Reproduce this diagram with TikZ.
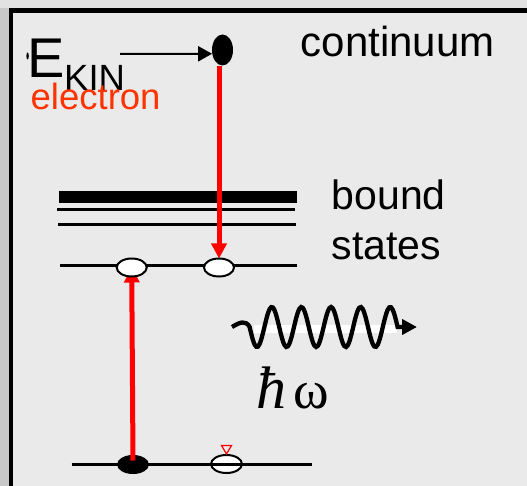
\documentclass[tikz,border=0pt]{standalone}
\usepackage{fontspec}
\setmainfont{Liberation Sans}
\newfontfamily\symserif{Liberation Serif}
\usepackage{xcolor}
\usetikzlibrary{arrows.meta,shapes.geometric,calc}
\definecolor{panel}{HTML}{EAEAEA}
\definecolor{outer}{HTML}{E2E2E2}
\definecolor{strip}{HTML}{C8C8C8}
\definecolor{elred}{HTML}{FF3300}
\tikzstyle{level}=[line width=3.3pt]
\tikzstyle{state}=[ellipse, draw=black, line width=2pt, fill=white,
  minimum width=30pt, minimum height=18pt, inner sep=0pt]
\tikzstyle{occ}=[ellipse, fill=black, minimum width=32pt, minimum height=19pt, inner sep=0pt]
\tikzstyle{lbl}=[anchor=base west, inner sep=0pt, font=\fontsize{41}{50}\selectfont]
\tikzstyle{arrow}=[-{Triangle[length=14pt,width=15pt]}, line width=2pt]
\tikzstyle{transition}=[-{Triangle[length=15pt,width=15pt]}, red, line width=5pt]

\begin{document}
\begin{tikzpicture}[x=1pt,y=-1pt]
\useasboundingbox (0,0) rectangle (527,486);
\fill[outer] (0,0) rectangle (527,486);
\fill[strip] (0,8) rectangle (8.5,486);
\fill[panel] (10,10) rectangle (527,486);
\draw[line width=4.6pt] (10.8,486) -- (10.8,10.3) -- (527,10.3);

\draw[line width=12.6pt] (59,197) -- (297,197);
\draw[level] (57,209.5) -- (295,209.5);
\draw[level] (58,224.3) -- (296,224.3);
\draw[level] (60,265.7) -- (297,265.7);

\fill (27.6,56) ellipse (1.2 and 3.5);
\node (E) [lbl, font=\fontsize{56}{56}\selectfont] at (27,77.3) {E};
\node (kin) [lbl, font=\fontsize{36.5}{36.5}\selectfont] at (64,90.7) {KIN};
\node (elec) [lbl, text=elred, font=\fontsize{36.5}{36.5}\selectfont] at (30.5,110) {electron};
\node (cont) [occ, minimum width=21pt, minimum height=31pt] at (222.5,50) {};
\coordinate (kinarr) at (120,54);
\draw[arrow] (kinarr) -- (cont.200);
\node (continuum) [lbl, font=\fontsize{42}{42}\selectfont] at (300.5,56.7) {continuum};
\node (bound) [lbl, align=left] at (331.5,259) {bound\\states};

\coordinate (b1pos) at (131.7,267.5);
\coordinate (b2pos) at (219,267.5);
\draw[transition] (b2pos |- cont.south) -- ($(b2pos)+(0,-9)$);

\node (g2) [state, minimum width=31pt] at (226.5,464) {};
\draw[level] (71.7,464.3) -- (311.7,464.3);
\node (g1) [occ] at (133,464.5) {};
\draw[transition] ($(g1.center)+(0,-4)$) -- (b1pos);
\node (b1) [state] at (b1pos) {};
\node (b2) [state] at (b2pos) {};
\draw[red, line width=1.2pt] ($(g2.north)+(-5,-8.5)$) -- ($(g2.north)+(5,-8.5)$) -- (g2.north) -- cycle;

\fill[white] (254,325) rectangle (397,333);
\draw[line width=4.3pt, -{Triangle[length=15pt,width=15pt]}] (232,327) .. controls (240,322) and (246,320) .. (249.6,327)
  -- plot[domain=249.6:397.6, samples=90, smooth] (\x, {327+20*cos(12.162*(\x-257))}) -- (417,327);
\node (hw) [anchor=base west, inner sep=0pt, font=\symserif] at (256,408)
  {{\fontsize{60}{60}\selectfont\itshape ħ}\hspace{7pt}{\fontsize{54}{54}\selectfont ω}};
\end{tikzpicture}
\end{document}
